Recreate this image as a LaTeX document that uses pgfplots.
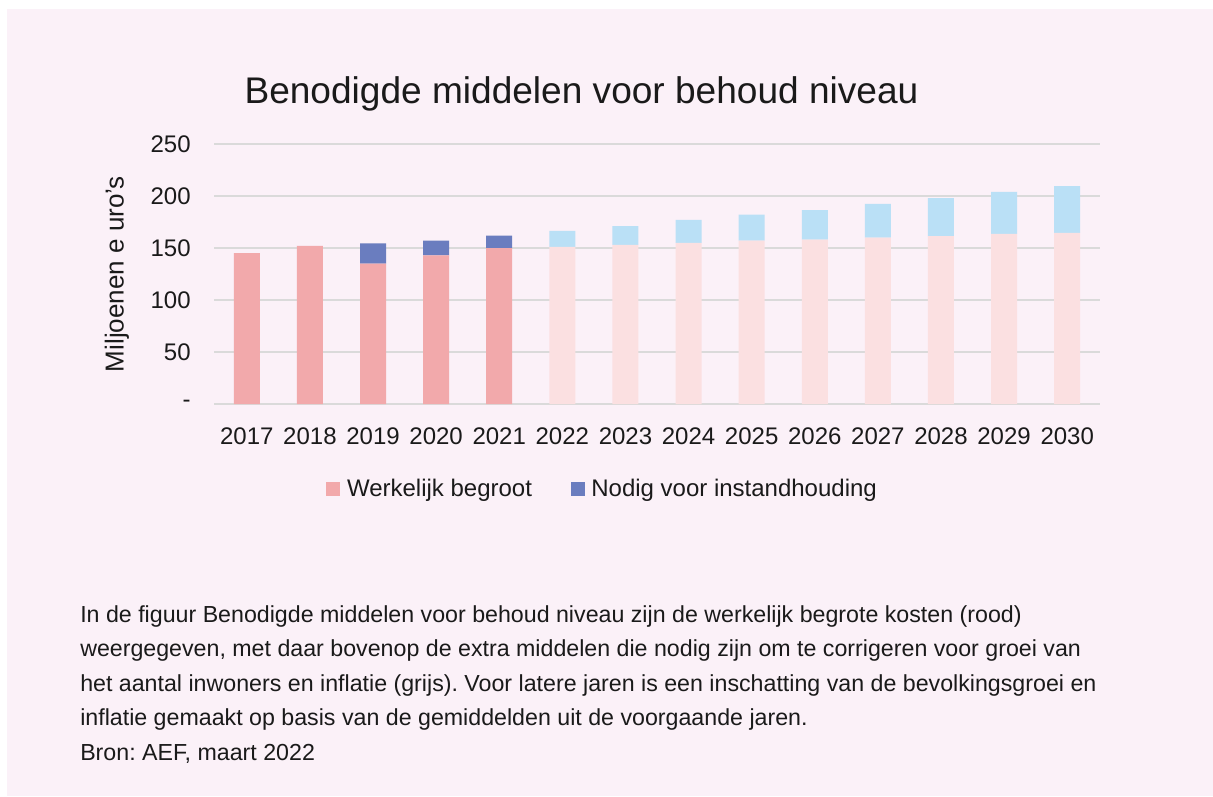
\documentclass[border=0pt]{standalone}
\usepackage{pgfplots}
\pgfplotsset{compat=1.18}
\usepackage{fontspec}
\setmainfont{Liberation Sans}

\definecolor{bg}{HTML}{FBF1F8}
\definecolor{pinkA}{HTML}{F2A9AB}
\definecolor{blueA}{HTML}{6A7DBF}
\definecolor{pinkL}{HTML}{FBE0E1}
\definecolor{blueL}{HTML}{BAE0F6}
\definecolor{gridgray}{HTML}{DADADA}
\definecolor{txt}{HTML}{1A1A1A}

\begin{document}
\frenchspacing
\begin{tikzpicture}[x=0.75pt,y=0.75pt]
% page and panel
\fill[white] (0,0) rectangle (1213,-796);
\fill[bg] (7,-9) rectangle (1213,-796);

\node[anchor=base, text=txt, font=\fontsize{27.8}{33}\selectfont, inner sep=0pt]
  at (581.5,-103) {Benodigde middelen voor behoud niveau};

\begin{axis}[
  at={(160.5pt,-303pt)}, anchor=south west,
  scale only axis, width=664.5pt, height=195pt,
  ybar stacked, bar width=19.5pt,
  xmin=-0.52, xmax=13.52, ymin=0, ymax=250,
  xtick={0,...,13},
  xticklabels={2017,2018,2019,2020,2021,2022,2023,2024,2025,2026,2027,2028,2029,2030},
  ytick={0,50,100,150,200,250},
  yticklabels={-,50,100,150,200,250},
  ymajorgrids, major grid style={draw=gridgray, line width=1.5pt},
  axis line style={draw=none},
  major tick length=0pt,
  tick label style={text=txt, font=\fontsize{18}{21}\selectfont},
  /pgf/number format/assume math mode=true,
  xticklabel style={yshift=-14.5pt},
  yticklabel style={xshift=-14pt},
  ylabel={Miljoenen e uro’s},
  ylabel style={at={(axis description cs:-0.1095,0.5)}, anchor=center,
    text=txt, font=\fontsize{19.5}{22}\selectfont},
  legend style={at={(axis description cs:0.439,-0.327)}, anchor=center,
    draw=none, fill=none, legend columns=2,
    font=\fontsize{18}{21}\selectfont, text=txt,
    /tikz/every even column/.append style={column sep=27pt}},
]
\addplot[fill=pinkA, draw=none,
  legend image code/.code={\fill[pinkA] (0pt,-5.25pt) rectangle (10.5pt,5.25pt);}]
  coordinates {(0,145) (1,152) (2,135) (3,143) (4,150) (5,0) (6,0) (7,0) (8,0) (9,0) (10,0) (11,0) (12,0) (13,0)};
\addlegendentry{\hspace{3pt}Werkelijk begroot}
\addplot[fill=blueA, draw=none,
  legend image code/.code={\fill[blueA] (0pt,-5.25pt) rectangle (10.5pt,5.25pt);}]
  coordinates {(0,0) (1,0) (2,19.5) (3,14) (4,12) (5,0) (6,0) (7,0) (8,0) (9,0) (10,0) (11,0) (12,0) (13,0)};
\addlegendentry{\hspace{3pt}Nodig voor instandhouding}
\addplot[fill=pinkL, draw=none, forget plot]
  coordinates {(0,0) (1,0) (2,0) (3,0) (4,0) (5,151) (6,153) (7,155) (8,157) (9,158) (10,160) (11,161.5) (12,163.5) (13,164.5)};
\addplot[fill=blueL, draw=none, forget plot]
  coordinates {(0,0) (1,0) (2,0) (3,0) (4,0) (5,15.5) (6,18) (7,22) (8,25) (9,28.5) (10,32.5) (11,36.5) (12,40.5) (13,45)};
\end{axis}

% caption below the chart
\begin{scope}[every node/.style={anchor=base west, inner sep=0pt, text=txt,
    font=\fontsize{17.4}{20}\selectfont}]
\node at (80,-622) {In de figuur Benodigde middelen voor behoud niveau zijn de werkelijk begrote kosten (rood)};
\node at (80,-656.5) {weergegeven, met daar bovenop de extra middelen die nodig zijn om te corrigeren voor groei van};
\node at (80,-691) {het aantal inwoners en inflatie (grijs). Voor latere jaren is een inschatting van de bevolkingsgroei en};
\node at (80,-725.5) {inflatie gemaakt op basis van de gemiddelden uit de voorgaande jaren.};
\node at (80,-760) {Bron: AEF, maart 2022};
\end{scope}
\end{tikzpicture}
\end{document}
